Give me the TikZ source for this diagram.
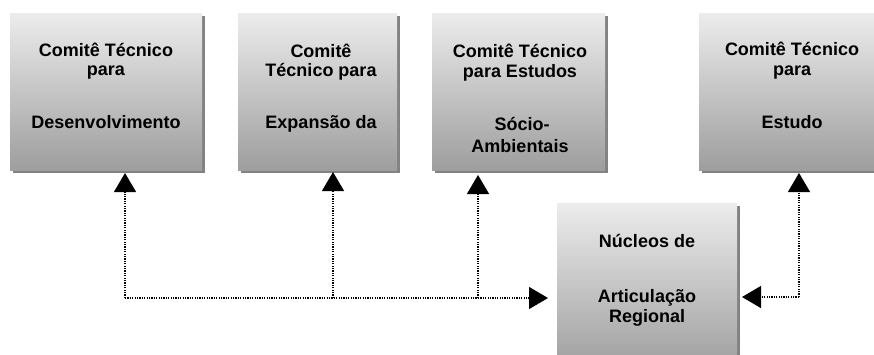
\documentclass[tikz,border=0pt]{standalone}
\usepackage{fontspec}
\setmainfont{Liberation Sans}
\usetikzlibrary{arrows.meta,shadows}
\definecolor{boxtop}{RGB}{236,236,236}
\definecolor{boxbot}{RGB}{158,158,158}
\definecolor{shadowgray}{RGB}{130,130,130}
\tikzset{
  box/.style={draw=none, top color=boxtop, bottom color=boxbot,
    general shadow={shadow xshift=3pt, shadow yshift=-3pt, fill=shadowgray}},
  txt/.style={anchor=base, inner sep=0pt, font=\fontsize{18}{20}\selectfont\bfseries},
  conn/.style={line width=1.2pt, dash pattern=on 1.2pt off 1.2pt},
  tip/.style={-{Triangle[width=22pt,length=19pt]}}
}
\begin{document}
\begin{tikzpicture}[x=1pt,y=-1pt]
\clip (0,0) rectangle (874,354);
\useasboundingbox (0,0) rectangle (874,354);
% boxes
\path[box] (10,13) rectangle (202,170);
\coordinate (b1s) at (125,170);
\path[box] (238,13) rectangle (397,170);
\coordinate (b2s) at (333,170);
\path[box] (432,13) rectangle (605,170);
\coordinate (b3s) at (478,170);
\path[box] (699,13) rectangle (888,170);
\coordinate (b4s) at (799,170);
\path[box] (557,203) rectangle (737,370);
\coordinate (b5w) at (557,298);
\coordinate (b5e) at (740,297);
% texts
\node[txt] (t1a) at (106,56) {Comitê Técnico};
\node[txt] (t1b) at (106,75) {para};
\node[txt] (t1c) at (106,128) {Desenvolvimento};
\node[txt] (t2a) at (321,57) {Comitê};
\node[txt] (t2b) at (321,76) {Técnico para};
\node[txt] (t2c) at (321,128) {Expansão da};
\node[txt] (t3a) at (520,57) {Comitê Técnico};
\node[txt] (t3b) at (520,77) {para Estudos};
\node[txt] (t3c) at (522,130) {Sócio-};
\node[txt] (t3d) at (520,152) {Ambientais};
\node[txt] (t4a) at (792,55) {Comitê Técnico};
\node[txt] (t4b) at (792,75) {para};
\node[txt] (t4c) at (792,128) {Estudo};
\node[txt] (t5a) at (647,247) {Núcleos de};
\node[txt] (t5b) at (647,302) {Articulação};
\node[txt] (t5c) at (647,322) {Regional};
% connectors
\coordinate (j1) at (125,298);
\coordinate (j2) at (333,298);
\coordinate (j3) at (478,298);
\coordinate (j4) at (799,297);
\draw[conn] (j1) -- (j3);
\draw[conn,tip] (j3) -- ([xshift=-9pt]b5w);
\draw[conn,tip] (j1) -- ([yshift=-3pt]b1s);
\draw[conn,tip] (j2) -- ([yshift=-2pt]b2s);
\draw[conn,tip] (j3) -- ([yshift=-5pt]b3s);
\draw[conn,tip] (j4) -- ([yshift=-3pt]b4s);
\draw[conn,tip] (j4) -- ([xshift=2pt]b5e);
\end{tikzpicture}
\end{document}
